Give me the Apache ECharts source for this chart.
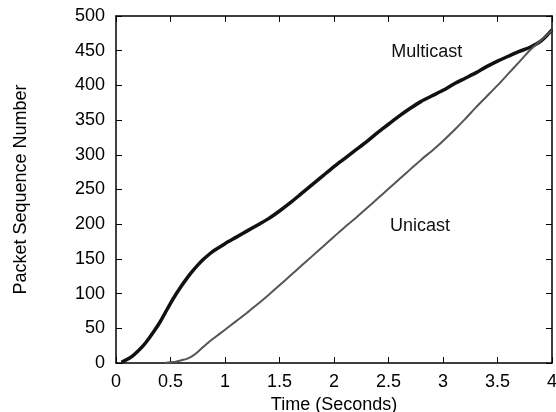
<!DOCTYPE html>
<html>
<head>
<meta charset="utf-8">
<script src="https://cdn.jsdelivr.net/npm/echarts@6/dist/echarts.min.js"></script>
<style>
html,body{margin:0;padding:0;background:#fff;}
#chart{width:556px;height:412px;}
</style>
</head>
<body>
<div id="chart"></div>
<script>
// Multicast series (time in seconds, packet sequence number)
var multicastTime = [0.05,0.1,0.15,0.2,0.25,0.3,0.35,0.4,0.45,0.5,0.55,0.6,0.65,0.7,0.75,0.8,0.85,0.9,1.0,1.1,1.2,1.3,1.4,1.5,1.6,1.7,1.8,1.9,2.0,2.1,2.2,2.3,2.4,2.5,2.6,2.7,2.8,2.9,3.0,3.1,3.2,3.3,3.4,3.5,3.6,3.7,3.8,3.9,4.0];
var multicastSeq  = [1,5,10,17,25,35,46,58,72,86,99,111,122,132,141,149,156,162,172,181,190,199,208,219,231,244,257,270,283,295,307,319,332,344,356,367,377,385,393,402,410,418,427,435,442,449,455,464,480];
// Unicast series
var unicastTime = [0.45,0.5,0.55,0.6,0.65,0.7,0.75,0.8,0.85,0.9,1.0,1.1,1.2,1.3,1.4,1.5,1.6,1.7,1.8,1.9,2.0,2.1,2.2,2.3,2.4,2.5,2.6,2.7,2.8,2.9,3.0,3.1,3.2,3.3,3.4,3.5,3.6,3.7,3.8,3.9,4.0];
var unicastSeq  = [0,1,2,4,6,10,16,23,30,36,48,60,72,85,98,112,126,140,154,168,182,196,209,223,237,251,265,279,293,306,320,335,351,368,384,400,417,434,451,465,479];
// Axis ticks
var xTicks = [0,0.5,1,1.5,2,2.5,3,3.5,4];
var yTicks = [0,50,100,150,200,250,300,350,400,450,500];
// Curve labels [time, seq, text]
var curveLabels = [[2.85,448,'Multicast'],[2.79,198,'Unicast']];

function zip(a,b){return a.map(function(v,i){return [v,b[i]];});}

var font = 'Liberation Sans, Arial, Helvetica, sans-serif';
var chart = echarts.init(document.getElementById('chart'), null, {renderer:'canvas'});

function axisCommon(showLabels){
  return {
    axisLine:{show:true,onZero:false,lineStyle:{color:'#000',width:1.5}},
    axisTick:{show:true,inside:true,length:6,lineStyle:{color:'#000',width:1}},
    splitLine:{show:false},
    axisLabel:{show:showLabels,color:'#000',fontSize:18,fontFamily:font}
  };
}

var xMain = Object.assign(axisCommon(true),{
  type:'value',position:'bottom',min:xTicks[0],max:xTicks[xTicks.length-1],interval:xTicks[1]-xTicks[0],
  name:'Time (Seconds)',nameLocation:'middle',nameGap:25,
  nameTextStyle:{color:'#000',fontSize:18,fontFamily:font},
  axisLabel:{color:'#000',fontSize:18,fontFamily:font,margin:10,formatter:function(v){return String(v);}}
});
var xTop = Object.assign(axisCommon(false),{
  type:'value',position:'top',min:xTicks[0],max:xTicks[xTicks.length-1],interval:xTicks[1]-xTicks[0]
});
var yMain = Object.assign(axisCommon(true),{
  type:'value',position:'left',min:yTicks[0],max:yTicks[yTicks.length-1],interval:yTicks[1]-yTicks[0],
  name:'Packet Sequence Number',nameLocation:'middle',nameGap:86,
  nameTextStyle:{color:'#000',fontSize:18,fontFamily:font},
  axisLabel:{color:'#000',fontSize:18,fontFamily:font,margin:11}
});
var yRight = Object.assign(axisCommon(false),{
  type:'value',position:'right',min:yTicks[0],max:yTicks[yTicks.length-1],interval:yTicks[1]-yTicks[0]
});

chart.setOption({
  animation:false,
  backgroundColor:'#fff',
  grid:{left:116,right:4,top:16,bottom:49,containLabel:false,outerBoundsMode:'none'},
  xAxis:[xMain,xTop],
  yAxis:[yMain,yRight],
  series:[
    {
      name:'Multicast',type:'line',xAxisIndex:0,yAxisIndex:0,
      data:zip(multicastTime,multicastSeq),showSymbol:false,smooth:0.3,
      lineStyle:{color:'#111',width:3.5},
      markPoint:{
        symbol:'circle',symbolSize:0,
        label:{show:true,formatter:'{b}',color:'#111',fontSize:18,fontFamily:font},
        data:curveLabels.map(function(c){return {name:c[2],coord:[c[0],c[1]]};})
      }
    },
    {
      name:'Unicast',type:'line',xAxisIndex:0,yAxisIndex:0,
      data:zip(unicastTime,unicastSeq),showSymbol:false,smooth:0.3,
      lineStyle:{color:'#555',width:2}
    }
  ]
});
</script>
</body>
</html>
